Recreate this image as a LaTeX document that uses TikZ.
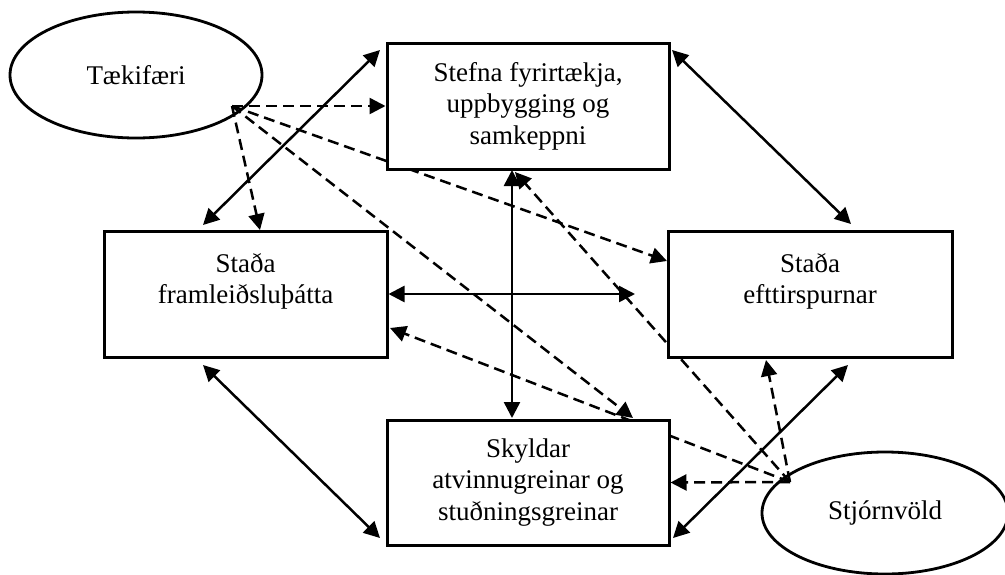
\documentclass[tikz,border=0pt]{standalone}
\usepackage{fontspec}
\setmainfont{Liberation Serif}
\usetikzlibrary{arrows.meta,shapes.geometric,backgrounds}
\begin{document}
\begin{tikzpicture}[x=1pt,y=-1pt,
  txt/.style={font=\fontsize{27}{31.5}\selectfont, align=center},
  box/.style={txt, draw, line width=3pt, fill=white, minimum width=282pt, minimum height=126pt, inner sep=0pt},
  oval/.style={txt, draw, ellipse, line width=2.8pt, inner sep=0pt},
  link/.style={line width=2.5pt, {Triangle[length=16pt,width=16pt]}-{Triangle[length=16pt,width=16pt]}},
  infl/.style={line width=2.5pt, dash pattern=on 11pt off 6pt, -{Triangle[length=16pt,width=16pt]}}]
\useasboundingbox (0,0) rectangle (1005,574);

% nodes
\node[oval, minimum width=252pt, minimum height=126pt] (tae) at (136,75) {Tækifæri};
\node[oval, minimum width=246pt, minimum height=122pt] (gov) at (885,513) {Stjórnvöld};
\node[box] (stefna) at (528,106) {Stefna fyrirtækja,\\uppbygging og\\samkeppni};
\node[box, minimum width=283pt] (framl) at (245.5,294) {Staða\\framleiðsluþátta\\~};
\node[box, minimum width=284pt] (eftir) at (810,294) {Staða\\efttirspurnar\\~};
\node[box, minimum height=125pt] (skyld) at (528,482.5) {Skyldar\\atvinnugreinar og\\stuðningsgreinar};

% connector ends
\coordinate (tsrc) at (232,106);
\coordinate (gsrc) at (790,482);
\coordinate (t2) at (260,230);
\coordinate (t3) at (667,261);
\coordinate (t4) at (633,418);
\coordinate (g2) at (766,360);
\coordinate (g3) at (515,172);
\coordinate (g4) at (390,328);
\coordinate (s1a) at (380,50);
\coordinate (s1b) at (203,225);
\coordinate (s2a) at (672,50);
\coordinate (s2b) at (851,224);
\coordinate (s3a) at (512,170);
\coordinate (s3b) at (512,418);
\coordinate (s4b) at (635,294);
\coordinate (s5a) at (203,365);
\coordinate (s5b) at (380,538);
\coordinate (s6a) at (673,538);
\coordinate (s6b) at (848,365);

% dashed influences (behind the boxes)
\begin{scope}[on background layer]
\draw[infl] (tsrc) -- (stefna.west);
\draw[infl] (tsrc) -- (t2);
\draw[infl] (tsrc) -- (t3);
\draw[infl] (tsrc) -- (t4);
\draw[infl] (gsrc) -- (skyld.east);
\draw[infl] (gsrc) -- (g2);
\draw[infl] (gsrc) -- (g3);
\draw[infl] (gsrc) -- (g4);
\end{scope}

% solid two-way links
\draw[link] (s1a) -- (s1b);
\draw[link] (s2a) -- (s2b);
\draw[link] (s3a) -- (s3b);
\draw[link] (framl.east) -- (s4b);
\draw[link] (s5a) -- (s5b);
\draw[link] (s6a) -- (s6b);
\end{tikzpicture}
\end{document}
